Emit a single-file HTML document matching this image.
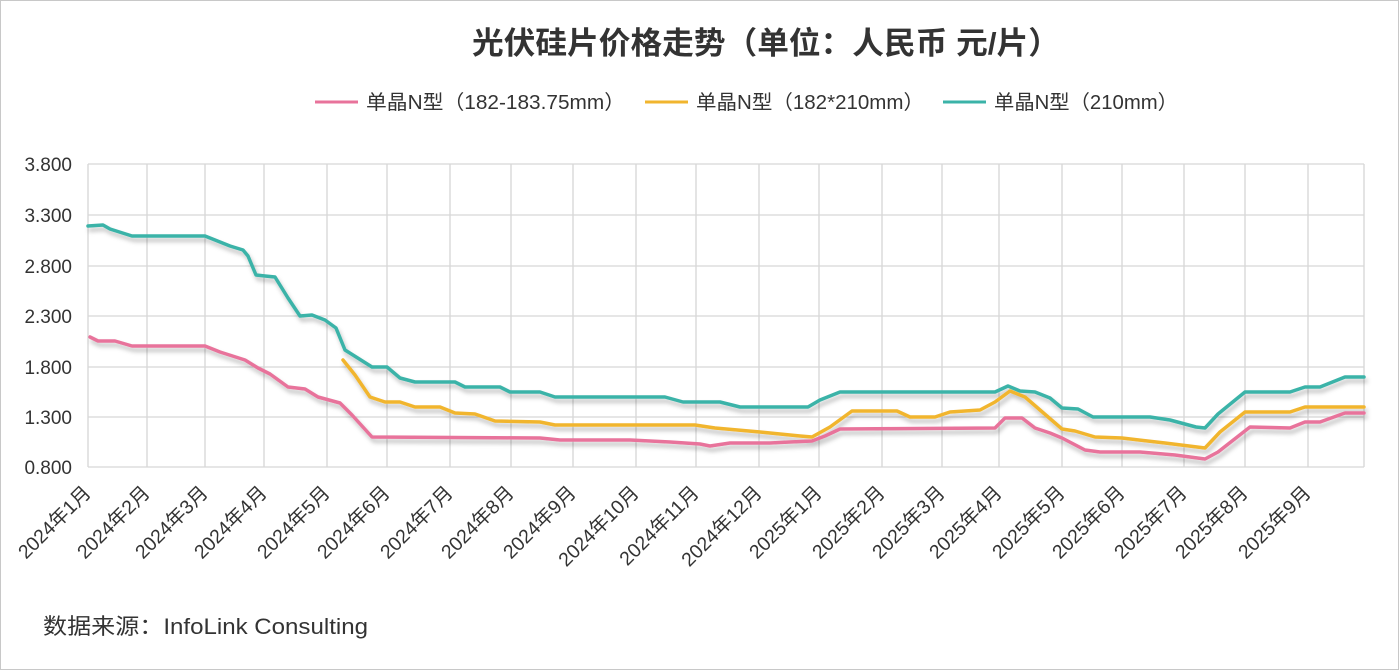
<!DOCTYPE html>
<html><head><meta charset="utf-8"><style>
html,body{margin:0;padding:0;background:#fff}
svg{display:block}
text{font-family:"Liberation Sans","Noto Sans CJK SC",sans-serif;fill:#333}
</style></head><body>
<svg width="1399" height="670" viewBox="0 0 1399 670">
<defs><filter id="sh" x="-5%" y="-20%" width="110%" height="140%"><feDropShadow dx="2" dy="4" stdDeviation="2" flood-color="#000" flood-opacity="0.25"/></filter></defs>
<rect x="0.5" y="0.5" width="1398" height="669" fill="#fff" stroke="#c8c8c8"/>
<text x="766" y="54" text-anchor="middle" font-size="31" font-weight="bold" fill="#333" textLength="588" lengthAdjust="spacingAndGlyphs">光伏硅片价格走势（单位：人民币 元/片）</text>
<g font-size="20">
<line x1="315" y1="102" x2="358" y2="102" stroke="#e8739b" stroke-width="3"/><text x="366" y="109" textLength="259" lengthAdjust="spacingAndGlyphs">单晶N型（182-183.75mm）</text>
<line x1="645" y1="102" x2="688" y2="102" stroke="#f1b52e" stroke-width="3"/><text x="696" y="109" textLength="228" lengthAdjust="spacingAndGlyphs">单晶N型（182*210mm）</text>
<line x1="943" y1="102" x2="986" y2="102" stroke="#3bb3a8" stroke-width="3"/><text x="994" y="109" textLength="184" lengthAdjust="spacingAndGlyphs">单晶N型（210mm）</text>
</g>
<g stroke="#d6d6d6" stroke-width="1.3">
<line x1="88" y1="164" x2="1364" y2="164"/><line x1="88" y1="215" x2="1364" y2="215"/><line x1="88" y1="266" x2="1364" y2="266"/><line x1="88" y1="316" x2="1364" y2="316"/><line x1="88" y1="367" x2="1364" y2="367"/><line x1="88" y1="417" x2="1364" y2="417"/><line x1="88" y1="467" x2="1364" y2="467"/>
<line x1="88" y1="164" x2="88" y2="467"/><line x1="147" y1="164" x2="147" y2="467"/><line x1="205" y1="164" x2="205" y2="467"/><line x1="264" y1="164" x2="264" y2="467"/><line x1="327" y1="164" x2="327" y2="467"/><line x1="387" y1="164" x2="387" y2="467"/><line x1="450" y1="164" x2="450" y2="467"/><line x1="511" y1="164" x2="511" y2="467"/><line x1="573" y1="164" x2="573" y2="467"/><line x1="636" y1="164" x2="636" y2="467"/><line x1="696" y1="164" x2="696" y2="467"/><line x1="759" y1="164" x2="759" y2="467"/><line x1="819" y1="164" x2="819" y2="467"/><line x1="882" y1="164" x2="882" y2="467"/><line x1="942" y1="164" x2="942" y2="467"/><line x1="999" y1="164" x2="999" y2="467"/><line x1="1062" y1="164" x2="1062" y2="467"/><line x1="1122" y1="164" x2="1122" y2="467"/><line x1="1184" y1="164" x2="1184" y2="467"/><line x1="1245" y1="164" x2="1245" y2="467"/><line x1="1308" y1="164" x2="1308" y2="467"/><line x1="1364" y1="164" x2="1364" y2="467"/>
</g>
<g font-size="19" text-anchor="end">
<text x="72" y="171">3.800</text><text x="72" y="222">3.300</text><text x="72" y="273">2.800</text><text x="72" y="323">2.300</text><text x="72" y="374">1.800</text><text x="72" y="424">1.300</text><text x="72" y="474">0.800</text>
</g>
<g font-size="19.5" text-anchor="end">
<text transform="translate(92,494) rotate(-45)">2024年1月</text>
<text transform="translate(151,494) rotate(-45)">2024年2月</text>
<text transform="translate(209,494) rotate(-45)">2024年3月</text>
<text transform="translate(268,494) rotate(-45)">2024年4月</text>
<text transform="translate(331,494) rotate(-45)">2024年5月</text>
<text transform="translate(391,494) rotate(-45)">2024年6月</text>
<text transform="translate(454,494) rotate(-45)">2024年7月</text>
<text transform="translate(515,494) rotate(-45)">2024年8月</text>
<text transform="translate(577,494) rotate(-45)">2024年9月</text>
<text transform="translate(640,494) rotate(-45)">2024年10月</text>
<text transform="translate(700,494) rotate(-45)">2024年11月</text>
<text transform="translate(763,494) rotate(-45)">2024年12月</text>
<text transform="translate(823,494) rotate(-45)">2025年1月</text>
<text transform="translate(886,494) rotate(-45)">2025年2月</text>
<text transform="translate(946,494) rotate(-45)">2025年3月</text>
<text transform="translate(1003,494) rotate(-45)">2025年4月</text>
<text transform="translate(1066,494) rotate(-45)">2025年5月</text>
<text transform="translate(1126,494) rotate(-45)">2025年6月</text>
<text transform="translate(1188,494) rotate(-45)">2025年7月</text>
<text transform="translate(1249,494) rotate(-45)">2025年8月</text>
<text transform="translate(1312,494) rotate(-45)">2025年9月</text>
</g>
<g fill="none" stroke-width="3.5" stroke-linejoin="round" stroke-linecap="round" filter="url(#sh)">
<polyline stroke="#3bb3a8" points="88,226 103,225 110,229 132,236 205,236 215,240 230,246 243,250 248,256 256,275 265,276 275,277 288,298 300,316 312,315 325,320 336,328 345,350 372,367 387,367 400,378 415,382 455,382 465,387 500,387 510,392 540,392 555,397 665,397 683,402 720,402 740,407 808,407 820,400 840,392 995,392 1008,386 1020,391 1035,392 1050,398 1062,408 1078,409 1093,417 1150,417 1170,420 1196,427 1205,428 1218,414 1245,392 1290,392 1305,387 1320,387 1345,377 1364,377"/>
<polyline stroke="#f1b52e" points="343,360 355,375 370,397 385,402 400,402 415,407 440,407 455,413 475,414 495,421 540,422 555,425 695,425 715,428 760,432 800,436 812,437 830,427 852,411 897,411 910,417 935,417 950,412 980,410 995,402 1010,391 1025,397 1040,410 1062,429 1075,431 1095,437 1122,438 1165,443 1205,448 1220,432 1245,412 1290,412 1305,407 1364,407"/>
<polyline stroke="#e8739b" points="90,337 98,341 115,341 132,346 205,346 220,352 245,360 258,368 270,374 288,387 305,389 318,397 340,403 352,415 372,437 540,438 560,440 630,440 670,442 700,444 710,446 730,443 770,443 790,442 812,441 825,436 840,429 995,428 1005,418 1022,418 1035,428 1050,433 1062,438 1085,450 1100,452 1140,452 1175,455 1205,459 1218,452 1250,427 1290,428 1305,422 1320,422 1345,413 1364,413"/>
</g>
<text x="43" y="634" font-size="22" fill="#444" textLength="325" lengthAdjust="spacingAndGlyphs">数据来源：InfoLink Consulting</text>
</svg>
</body></html>
